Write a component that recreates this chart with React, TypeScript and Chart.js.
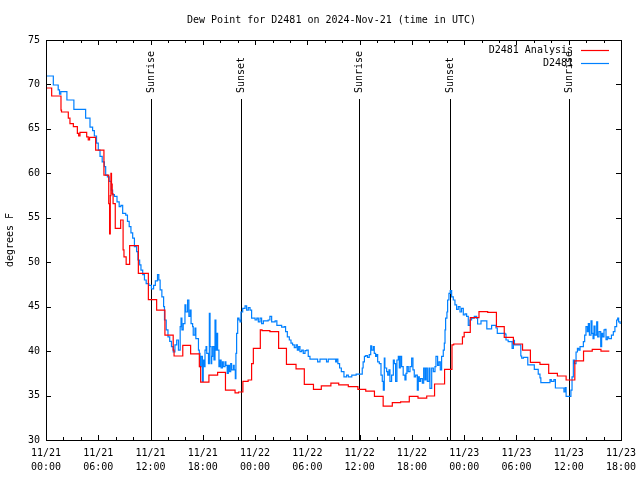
import React, { useEffect, useRef } from "react";
import { Chart, registerables } from "chart.js";

Chart.register(...registerables);

// ---- data (hours since 2024-11-21 00:00 UTC) ----
const chartTitle = "Dew Point for D2481 on 2024-Nov-21 (time in UTC)";
const yAxisTitle = "degrees F";
const seriesNames = ["D2481 Analysis", "D2481"];

const xTickDates = ["11/21", "11/21", "11/21", "11/21", "11/22", "11/22", "11/22", "11/22", "11/23", "11/23", "11/23", "11/23"];
const xTickTimes = ["00:00", "06:00", "12:00", "18:00", "00:00", "06:00", "12:00", "18:00", "00:00", "06:00", "12:00", "18:00"];

const sunHours = [12.02, 22.42, 35.97, 46.4, 60.07];
const sunLabels = ["Sunrise", "Sunset", "Sunrise", "Sunset", "Sunrise"];

const analysisHours = [
  0, 0.65, 1.72, 1.78, 2.56, 2.75, 3.14, 3.6, 3.75, 3.9, 4.67, 4.85, 5.0, 5.7, 6.65, 7.2, 7.3, 7.38, 7.45, 7.52,
  7.6, 7.7, 7.95, 8.57, 8.85, 8.95, 9.2, 9.6, 10.6, 11.75, 12.7, 13.65, 14.6, 14.7, 15.7, 16.6, 17.6, 17.75, 18.7, 19.7,
  20.6, 21.7, 22.1, 22.6, 23.2, 23.6, 23.8, 24.6, 24.8, 25.7, 26.7, 27.6, 28.7, 29.65, 30.7, 31.6, 32.7, 33.6, 34.7, 35.8,
  36.7, 37.7, 38.7, 39.75, 40.7, 41.7, 42.7, 43.7, 44.6, 45.75, 46.6, 46.8, 47.8, 48.0, 48.7, 49.7, 50.7, 51.7, 52.6, 53.65,
  54.7, 55.6, 56.7, 57.7, 58.7, 59.7, 60.7, 61.7, 62.7, 63.7, 64.66,
];
const analysisValues = [
  69.6, 68.7, 67.1, 66.9, 66.2, 65.6, 65.25, 64.5, 64.2, 64.6, 64.1, 63.75, 64.05, 62.6, 59.8, 56.6, 53.2, 57.5, 60.0, 58.8,
  57.7, 56.6, 53.8, 54.75, 51.4, 50.6, 49.75, 51.86, 48.75, 45.8, 44.6, 41.8, 40.1, 39.45, 40.65, 39.7, 38.25, 36.5, 37.3, 37.6,
  35.6, 35.3, 35.4, 36.6, 36.75, 38.6, 40.3, 42.4, 42.3, 42.2, 40.3, 38.5, 38.0, 36.26, 35.7, 36.1, 36.4, 36.2, 36.0, 35.7,
  35.5, 34.9, 33.8, 34.2, 34.3, 34.9, 34.7, 34.95, 36.3, 37.95, 40.7, 40.8, 41.6, 42.1, 43.76, 44.44, 44.36, 42.75, 41.55, 40.8,
  40.1, 38.74, 38.5, 37.5, 37.2, 36.75, 38.9, 40.0, 40.2, 40.0, 40.0,
];

const stationHours = [
  0, 0.84, 1.4, 1.55, 1.7, 2.4, 3.2, 4.55, 5.05, 5.35, 5.55, 5.8, 6.0, 6.2, 6.45, 6.7, 6.85, 7.05, 7.25, 7.5,
  7.65, 7.85, 8.15, 8.4, 8.6, 8.8, 9.15, 9.35, 9.55, 9.75, 9.95, 10.15, 10.4, 10.55, 10.75, 10.9, 11.1, 11.3, 11.5, 11.8,
  12.1, 12.35, 12.55, 12.8, 12.95, 13.1, 13.3, 13.5, 13.6, 13.8, 14.0, 14.2, 14.4, 14.6, 14.8, 15.0, 15.2, 15.4, 15.5, 15.6,
  15.75, 15.95, 16.05, 16.25, 16.4, 16.55, 16.65, 16.83, 16.9, 17.1, 17.2, 17.5, 17.6, 17.68, 17.8, 17.95, 18.05, 18.18, 18.25, 18.37,
  18.45, 18.65, 18.75, 18.83, 18.95, 19.02, 19.13, 19.28, 19.4, 19.5, 19.6, 19.7, 19.85, 19.97, 20.1, 20.25, 20.35, 20.55, 20.65, 20.8,
  20.93, 21.05, 21.2, 21.3, 21.5, 21.6, 21.73, 21.8, 21.88, 22.0, 22.15, 22.27, 22.38, 22.58, 22.85, 23.03, 23.22, 23.42, 23.6, 24.0,
  24.2, 24.37, 24.57, 24.75, 24.95, 25.5, 25.7, 25.9, 26.3, 26.5, 27.05, 27.35, 27.5, 27.7, 27.93, 28.12, 28.3, 28.5, 28.7, 28.85,
  29.0, 29.15, 29.35, 29.53, 29.73, 29.92, 30.1, 30.3, 31.18, 31.45, 32.2, 32.4, 33.25, 33.35, 33.5, 33.7, 33.9, 34.2, 34.5, 34.7,
  35.1, 35.6, 36.3, 36.4, 36.55, 36.7, 36.9, 37.1, 37.27, 37.38, 37.57, 37.68, 37.83, 37.95, 38.07, 38.26, 38.45, 38.6, 38.72, 38.83,
  38.9, 39.1, 39.22, 39.37, 39.48, 39.67, 39.87, 39.98, 40.13, 40.28, 40.44, 40.55, 40.67, 40.82, 41.0, 41.2, 41.32, 41.43, 41.58, 41.78,
  41.97, 42.12, 42.27, 42.43, 42.62, 42.73, 42.85, 43.0, 43.2, 43.35, 43.5, 43.62, 43.77, 43.96, 44.07, 44.27, 44.46, 44.65, 44.76, 44.95,
  45.1, 45.26, 45.41, 45.6, 45.72, 45.8, 45.87, 46.02, 46.1, 46.25, 46.4, 46.56, 46.75, 46.94, 47.13, 47.32, 47.52, 47.7, 47.9, 48.09,
  48.28, 48.47, 48.66, 48.85, 49.16, 49.43, 49.54, 49.93, 50.6, 51.15, 51.65, 51.8, 52.7, 52.8, 53.05, 53.5, 53.65, 53.77, 54.5, 54.6,
  54.8, 55.3, 56.05, 56.5, 56.7, 56.8, 57.85, 58.0, 58.3, 58.47, 59.45, 59.6, 59.7, 60.25, 60.38, 60.53, 60.65, 60.84, 61.0, 61.15,
  61.3, 61.68, 61.83, 61.98, 62.14, 62.25, 62.37, 62.56, 62.67, 62.79, 62.9, 63.02, 63.21, 63.32, 63.48, 63.67, 63.78, 63.9, 64.05, 64.17,
  64.28, 64.43, 64.59, 64.9, 65.12, 65.3, 65.5, 65.62, 65.73, 65.9,
];
const stationValues = [
  70.95, 69.94, 69.4, 68.9, 69.2, 68.25, 67.2, 66.2, 65.2, 64.8, 64.2, 63.4, 62.6, 61.9, 61.3, 60.75, 59.8, 59.6, 59.1, 58.1,
  57.6, 57.4, 56.8, 56.25, 56.4, 55.5, 55.3, 54.6, 54.0, 53.3, 52.7, 51.75, 51.2, 50.25, 49.7, 49.1, 48.6, 48.0, 47.6, 47.4,
  47.0, 47.4, 47.9, 48.6, 48.0, 46.9, 46.1, 45.0, 43.5, 42.4, 41.6, 41.1, 40.5, 39.9, 40.7, 41.25, 40.1, 42.75, 43.7, 42.4,
  43.1, 45.2, 44.4, 45.75, 43.9, 44.6, 43.1, 42.75, 41.8, 42.6, 41.4, 40.1, 39.75, 38.25, 39.4, 36.6, 39.0, 38.25, 40.1, 40.5,
  39.75, 38.6, 44.25, 40.5, 38.6, 39.4, 40.5, 39.0, 43.5, 40.1, 42.0, 40.1, 38.25, 39.0, 38.1, 38.8, 38.25, 38.8, 38.4, 37.5,
  38.4, 37.7, 38.6, 37.9, 38.4, 37.9, 36.9, 39.75, 42.0, 43.7, 43.5, 43.3, 44.4, 44.8, 45.1, 44.6, 44.9, 44.6, 43.7, 43.5,
  43.7, 43.3, 43.7, 43.1, 43.4, 43.5, 43.9, 43.3, 43.4, 42.9, 42.7, 42.75, 42.2, 41.6, 41.25, 40.9, 40.7, 40.4, 40.7, 40.1,
  40.5, 39.94, 40.1, 39.75, 40.05, 40.1, 39.4, 39.1, 38.8, 39.1, 38.8, 39.1, 38.8, 39.1, 38.6, 38.1, 37.7, 37.1, 37.3, 37.1,
  37.3, 37.4, 38.1, 38.8, 39.4, 39.5, 39.3, 39.6, 40.6, 40.1, 40.5, 39.75, 39.4, 39.6, 38.8, 38.6, 37.3, 36.6, 35.6, 39.2,
  38.1, 37.7, 37.3, 37.9, 36.6, 37.3, 39.0, 38.6, 36.6, 39.0, 39.4, 38.1, 39.4, 38.25, 37.3, 36.75, 37.5, 38.25, 37.7, 38.25,
  39.2, 37.9, 37.1, 37.3, 35.6, 37.1, 36.6, 36.9, 36.4, 38.1, 36.75, 38.1, 36.6, 38.1, 35.8, 38.1, 37.7, 38.25, 39.4, 38.4,
  38.8, 37.9, 39.4, 40.1, 40.9, 42.4, 43.7, 44.4, 45.75, 46.5, 46.8, 46.1, 45.75, 45.2, 44.7, 45.0, 44.4, 44.8, 44.06, 44.2,
  43.9, 42.9, 43.5, 43.7, 43.9, 43.7, 43.05, 43.4, 42.5, 42.9, 42.6, 42.0, 41.9, 41.25, 41.06, 40.3, 41.2, 40.7, 39.45, 39.2,
  39.3, 38.45, 37.95, 37.4, 37.0, 36.45, 36.8, 36.6, 36.8, 35.85, 35.4, 35.9, 34.9, 35.6, 37.1, 39.0, 38.6, 39.9, 40.3, 40.1,
  40.5, 41.06, 41.8, 42.75, 42.2, 43.1, 41.8, 43.4, 42.0, 41.4, 42.8, 41.8, 43.3, 41.6, 42.2, 40.5, 42.0, 41.6, 42.4, 42.45,
  41.3, 41.6, 41.4, 41.8, 42.2, 42.75, 43.5, 43.7, 43.3, 43.05,
];

const X_MIN = 0;
const X_MAX = 66;
const Y_MIN = 30;
const Y_MAX = 75;

const MONO = "'DejaVu Sans Mono', 'Liberation Mono', monospace";
const RED = "#ff0000";
const BLUE = "#0080ff";

const decorPlugin = {
  id: "gnuplotDecor",
  beforeDatasetsDraw(chart: any) {
    const { ctx, chartArea, scales } = chart;
    const x = scales.x;
    ctx.save();
    ctx.strokeStyle = "#000";
    ctx.lineWidth = 1;
    ctx.fillStyle = "#000";
    ctx.font = `10px ${MONO}`;
    sunHours.forEach((h, i) => {
      const px = Math.round(x.getPixelForValue(h)) + 0.5;
      ctx.beginPath();
      ctx.moveTo(px, chartArea.top + 59);
      ctx.lineTo(px, chartArea.bottom);
      ctx.stroke();
      ctx.save();
      ctx.translate(px, chartArea.top + 53);
      ctx.rotate(-Math.PI / 2);
      ctx.textAlign = "left";
      ctx.textBaseline = "middle";
      ctx.fillText(sunLabels[i], 0, 0);
      ctx.restore();
    });
    ctx.restore();
  },
  afterDatasetsDraw(chart: any) {
    const { ctx, chartArea, scales } = chart;
    const { left, right, top, bottom } = chartArea;
    const x = scales.x;
    const y = scales.y;
    ctx.save();
    ctx.strokeStyle = "#000";
    ctx.lineWidth = 1;
    // frame
    ctx.strokeRect(left + 0.5, top + 0.5, right - left, bottom - top);
    // ticks, inward, on all four sides
    ctx.beginPath();
    for (let h = X_MIN; h <= X_MAX; h += 2) {
      const len = h % 6 === 0 ? 5 : 3;
      const px = Math.round(x.getPixelForValue(h)) + 0.5;
      ctx.moveTo(px, bottom);
      ctx.lineTo(px, bottom - len);
      ctx.moveTo(px, top);
      ctx.lineTo(px, top + len);
    }
    for (let v = Y_MIN; v <= Y_MAX; v += 5) {
      const py = Math.round(y.getPixelForValue(v)) + 0.5;
      ctx.moveTo(left, py);
      ctx.lineTo(left + 5, py);
      ctx.moveTo(right, py);
      ctx.lineTo(right - 5, py);
    }
    ctx.stroke();

    // title
    ctx.fillStyle = "#000";
    ctx.font = `10px ${MONO}`;
    ctx.textAlign = "center";
    ctx.textBaseline = "middle";
    ctx.fillText(chartTitle, (left + right) / 2 - 2, 20);

    // y axis title
    ctx.save();
    ctx.translate(10, (top + bottom) / 2);
    ctx.rotate(-Math.PI / 2);
    ctx.textAlign = "center";
    ctx.textBaseline = "middle";
    ctx.fillText(yAxisTitle, 0, 0);
    ctx.restore();

    // legend
    const colors = [RED, BLUE];
    seriesNames.forEach((name, i) => {
      const ly = top + 10 + i * 13;
      ctx.fillStyle = "#000";
      ctx.textAlign = "right";
      ctx.textBaseline = "middle";
      ctx.fillText(name, right - 48, ly);
      ctx.strokeStyle = colors[i];
      ctx.lineWidth = 1.2;
      ctx.beginPath();
      ctx.moveTo(right - 40, ly + 0.5);
      ctx.lineTo(right - 12, ly + 0.5);
      ctx.stroke();
    });
    ctx.restore();
  },
};

export default function App() {
  const canvasRef = useRef<HTMLCanvasElement | null>(null);

  useEffect(() => {
    const canvas = canvasRef.current;
    if (!canvas) return;
    const chart = new Chart(canvas, {
      type: "line",
      data: {
        datasets: [
          {
            label: seriesNames[0],
            data: analysisHours.map((h, i) => ({ x: h, y: analysisValues[i] })),
            borderColor: RED,
            borderWidth: 1.2,
            stepped: true,
            pointRadius: 0,
            fill: false,
          },
          {
            label: seriesNames[1],
            data: stationHours.map((h, i) => ({ x: h, y: stationValues[i] })),
            borderColor: BLUE,
            borderWidth: 1.2,
            stepped: true,
            pointRadius: 0,
            fill: false,
          },
        ],
      },
      options: {
        responsive: false,
        animation: false,
        devicePixelRatio: 1,
        layout: { padding: { left: 0, right: 19, top: 40, bottom: 0 } },
        plugins: {
          legend: { display: false },
          title: { display: false },
          tooltip: { enabled: false },
        },
        scales: {
          x: {
            type: "linear",
            min: X_MIN,
            max: X_MAX,
            grid: { display: false, drawTicks: false },
            border: { display: false },
            ticks: {
              stepSize: 6,
              autoSkip: false,
              maxRotation: 0,
              padding: 6,
              color: "#000",
              font: { family: MONO, size: 10, lineHeight: 1.4 },
              callback: (v: any) => {
                const idx = Math.round(Number(v) / 6);
                return [xTickDates[idx] ?? "", xTickTimes[idx] ?? ""];
              },
            },
            afterFit: (s: any) => {
              s.height = 40;
              s.paddingLeft = 0;
              s.paddingRight = 0;
            },
          },
          y: {
            min: Y_MIN,
            max: Y_MAX,
            grid: { display: false, drawTicks: false },
            border: { display: false },
            ticks: {
              stepSize: 5,
              autoSkip: false,
              padding: 6,
              color: "#000",
              font: { family: MONO, size: 10 },
            },
            afterFit: (s: any) => {
              s.width = 46;
            },
          },
        },
      },
      plugins: [decorPlugin],
    });
    return () => chart.destroy();
  }, []);

  return (
    <div style={{ position: "absolute", left: 0, top: 0, width: 640, height: 480, background: "#fff" }}>
      <canvas ref={canvasRef} width={640} height={480} style={{ width: 640, height: 480, display: "block" }} />
    </div>
  );
}
